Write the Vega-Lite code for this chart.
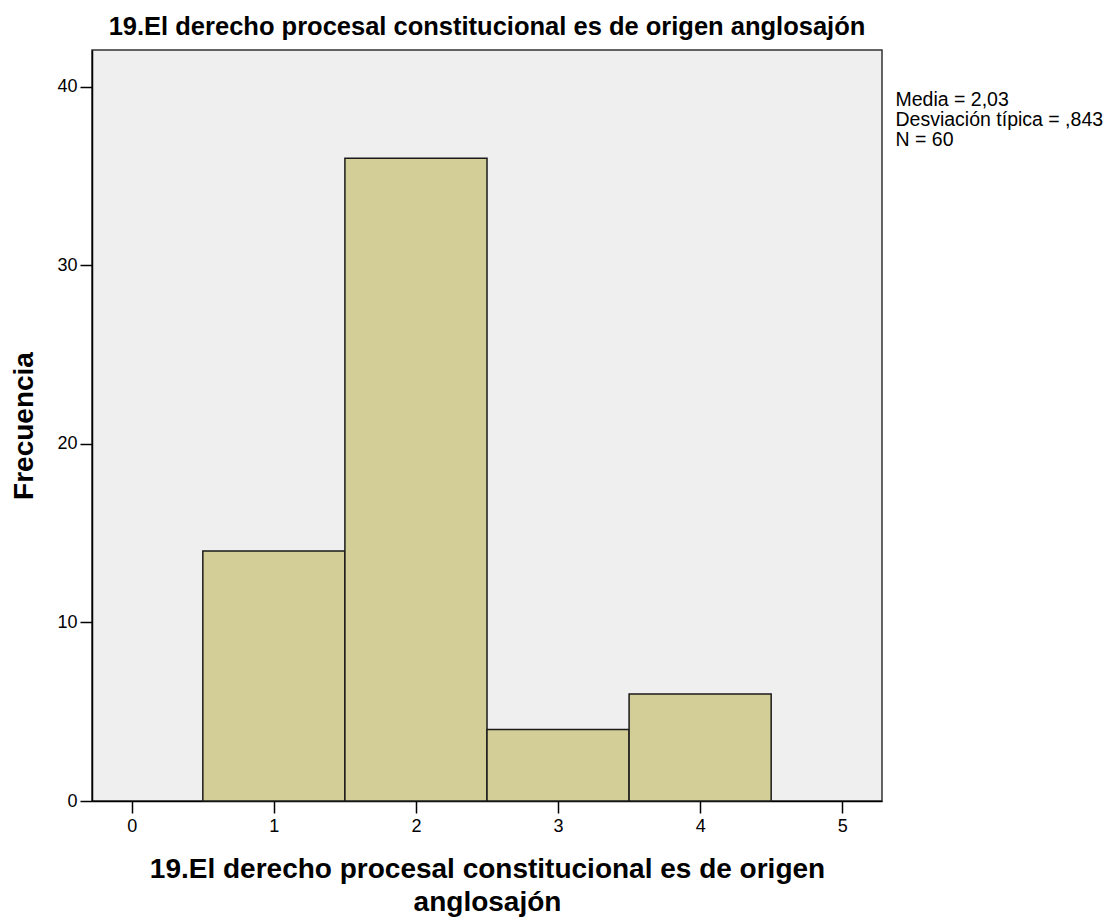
{
  "$schema": "https://vega.github.io/schema/vega-lite/v6.json",
  "width": 790,
  "height": 751,
  "autosize": {"type": "none"},
  "padding": {"left": 92, "top": 50, "right": 238, "bottom": 116},
  "background": "white",
  "config": {
    "font": "Liberation Sans",
    "view": {"fill": "#EFEFEF", "stroke": "#333333", "strokeWidth": 1.5}
  },
  "title": {
    "text": "19.El derecho procesal constitucional es de origen anglosajón",
    "fontSize": 25.5,
    "fontWeight": "bold",
    "color": "#000000",
    "anchor": "middle",
    "offset": 10,
    "font": "Liberation Sans"
  },
  "datasets": {
    "bars": [
      {"valor": 1, "frecuencia": 14},
      {"valor": 2, "frecuencia": 36},
      {"valor": 3, "frecuencia": 4},
      {"valor": 4, "frecuencia": 6}
    ],
    "stats": [
      {"x": 5.375, "y": 39.75, "texto": "Media = 2,03\nDesviación típica = ,843\nN = 60"}
    ]
  },
  "layer": [
    {
      "data": {"name": "bars"},
      "transform": [
        {"calculate": "datum.valor - 0.5", "as": "x0"},
        {"calculate": "datum.valor + 0.5", "as": "x1"}
      ],
      "mark": {"type": "rect", "fill": "#D3CE97", "stroke": "#1a1a1a", "strokeWidth": 1.5},
      "encoding": {
        "x": {
          "field": "x0",
          "type": "quantitative",
          "scale": {"domain": [-0.28, 5.28], "nice": false, "zero": false},
          "axis": {
            "values": [0, 1, 2, 3, 4, 5],
            "format": "d",
            "title": ["19.El derecho procesal constitucional es de origen", "anglosajón"],
            "titleFontSize": 28,
            "titleFontWeight": "bold",
            "titleColor": "#000000",
            "titlePadding": 20,
            "titleLineHeight": 33,
            "labelFontSize": 18,
            "labelColor": "#000000",
            "labelPadding": 4,
            "tickSize": 12,
            "tickColor": "#000000",
            "tickWidth": 1.5,
            "domainColor": "#000000",
            "domainWidth": 1.5,
            "grid": false
          }
        },
        "x2": {"field": "x1"},
        "y": {
          "field": "frecuencia",
          "type": "quantitative",
          "scale": {"domain": [0, 42.07], "nice": false},
          "axis": {
            "values": [0, 10, 20, 30, 40],
            "title": "Frecuencia",
            "titleFontSize": 28,
            "titleFontWeight": "bold",
            "titleColor": "#000000",
            "titlePadding": 18,
            "labelFontSize": 18,
            "labelColor": "#000000",
            "labelPadding": 3,
            "tickSize": 12,
            "tickColor": "#000000",
            "tickWidth": 1.5,
            "domainColor": "#000000",
            "domainWidth": 1.5,
            "grid": false
          }
        },
        "y2": {"datum": 0}
      }
    },
    {
      "data": {"name": "stats"},
      "mark": {"type": "text", "align": "left", "baseline": "top", "fontSize": 19.5, "lineBreak": "\n", "lineHeight": 20, "color": "#000000", "font": "Liberation Sans"},
      "encoding": {
        "x": {"field": "x", "type": "quantitative"},
        "y": {"field": "y", "type": "quantitative"},
        "text": {"field": "texto"}
      }
    }
  ]
}
